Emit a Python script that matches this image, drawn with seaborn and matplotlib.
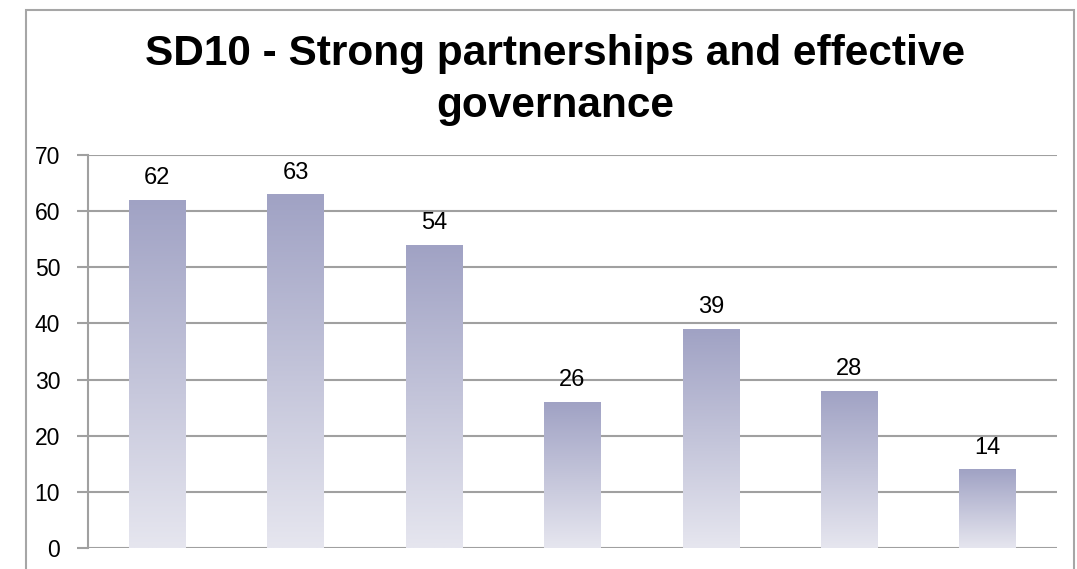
import numpy as np
import pandas as pd
import matplotlib
matplotlib.use('Agg')
import matplotlib.pyplot as plt
import matplotlib.patches as mpatches
from matplotlib.colors import LinearSegmentedColormap
import seaborn as sns

# Data
categories = ['C1', 'C2', 'C3', 'C4', 'C5', 'C6', 'C7']
values = [62, 63, 54, 26, 39, 28, 14]
title = 'SD10 - Strong partnerships and effective\ngovernance'

data = pd.DataFrame({'cat': categories, 'val': values})

sns.set_style('white')
plt.rcParams['font.family'] = ['Liberation Sans', 'DejaVu Sans']
plt.rcParams['text.color'] = 'black'

W, H = 1077, 569
fig = plt.figure(figsize=(W / 100, H / 100), dpi=100)
# axes placed in pixel terms: left 88, right 1057, top 155, bottom 548
ax = fig.add_axes([88 / W, 1 - 548 / H, (1057 - 88) / W, (548 - 155) / H])

sns.barplot(data=data, x='cat', y='val', color='#a0a2c4', width=0.41, ax=ax,
            saturation=1, zorder=3)

# gradient fill for each bar (darker at top, pale at bottom)
cmap = LinearSegmentedColormap.from_list('grad', ['#e6e6ef', '#a0a2c4'])
grad = np.linspace(0, 1, 256).reshape(-1, 1)
for p in ax.patches:
    x0, y0, w, h = p.get_x(), p.get_y(), p.get_width(), p.get_height()
    p.set_facecolor('none')
    p.set_edgecolor('none')
    im = ax.imshow(grad, cmap=cmap, origin='lower', aspect='auto',
                   extent=[x0, x0 + w, y0, y0 + h], zorder=3)
    im.set_clip_path(p)
    ax.text(x0 + w / 2, y0 + h + 1.9, f'{int(h)}', ha='center', va='bottom',
            fontsize=17, color='black')

ax.set_xlim(-0.5, len(categories) - 0.5)
ax.set_ylim(0, 70)
ax.set_yticks(range(0, 71, 10))
ax.yaxis.grid(True, color='#a0a0a0', linewidth=1.5, zorder=0)
ax.xaxis.grid(False)
ax.set_xticks([])
ax.set_xlabel('')
ax.set_ylabel('')
for s in ['top', 'right', 'bottom']:
    ax.spines[s].set_visible(False)
ax.spines['left'].set_color('#a0a0a0')
ax.spines['left'].set_linewidth(1.5)
ax.tick_params(axis='y', left=True, length=8, width=1.5, color='#a0a0a0',
               labelsize=16.5, pad=12, labelcolor='black')

fig.text(555 / W, 1 - 34 / H, title, ha='center', va='top', fontsize=30.5,
         fontweight='bold', linespacing=1.39, color='black')

# outer chart border
fig.patches.append(mpatches.Rectangle((26 / W, -0.1), (1074 - 26) / W, 1.1 - 10 / H,
                                      transform=fig.transFigure, fill=False,
                                      edgecolor='#a6a6a6', linewidth=1.5))

fig.savefig('out.png', dpi=100)
